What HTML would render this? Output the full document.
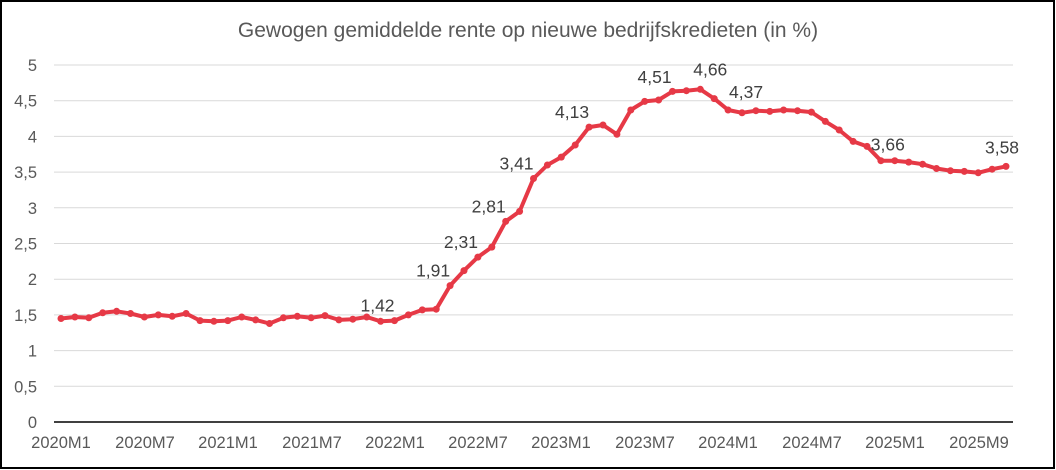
<!DOCTYPE html>
<html><head><meta charset="utf-8"><style>
html,body{margin:0;padding:0;background:#fff}
svg{display:block;font-family:"Liberation Sans",sans-serif}
</style></head><body>
<svg id="c" width="1056" height="470" xmlns="http://www.w3.org/2000/svg">
<rect x="1" y="1" width="1053" height="467" fill="#fff" stroke="#000" stroke-width="2"/>
<text x="528" y="37" text-anchor="middle" font-size="21" fill="#595959">Gewogen gemiddelde rente op nieuwe bedrijfskredieten (in %)</text>
<g id="g"></g>
</svg>
<script>
var g=document.getElementById('g'),h='';
function Y(v){return 422-71.4*v;}
for(var i=0;i<=10;i++){var v=i/2,y=Y(v);
 if(i>0)h+='<line x1="54" x2="1013" y1="'+y+'" y2="'+y+'" stroke="#d9d9d9" stroke-width="1"/>';
 h+='<text x="37" y="'+(y+6)+'" text-anchor="end" font-size="16.5" fill="#595959">'+String(v).replace('.',',')+'</text>';}
h+='<line x1="54" x2="1013" y1="422" y2="422" stroke="#000" stroke-width="1.5"/>';
var xl=[['2020M1',61],['2020M7',145],['2021M1',228],['2021M7',312],['2022M1',395],['2022M7',478],['2023M1',561],['2023M7',645],['2024M1',728],['2024M7',812],['2025M1',895],['2025M9',979]];
xl.forEach(function(a){h+='<text x="'+a[1]+'" y="448" text-anchor="middle" font-size="16.5" fill="#595959">'+a[0]+'</text>';});
var d=[1.45,1.47,1.46,1.53,1.55,1.52,1.47,1.50,1.48,1.52,1.42,1.41,
1.42,1.47,1.43,1.38,1.46,1.48,1.46,1.49,1.43,1.44,1.47,1.41,
1.42,1.50,1.57,1.58,1.91,2.12,2.31,2.45,2.81,2.95,3.41,3.60,
3.71,3.88,4.13,4.16,4.03,4.37,4.49,4.51,4.63,4.64,4.66,4.53,
4.37,4.33,4.36,4.35,4.37,4.36,4.34,4.21,4.09,3.93,3.86,3.66,
3.66,3.64,3.61,3.55,3.52,3.51,3.49,3.54,3.58];
function X(i){return 61+i*(945/68);}
var p=d.map(function(v,i){return X(i).toFixed(1)+','+Y(v).toFixed(1)}).join(' ');
h+='<polyline points="'+p+'" fill="none" stroke="#e63946" stroke-width="4" stroke-linejoin="round"/>';
d.forEach(function(v,i){h+='<circle cx="'+X(i).toFixed(1)+'" cy="'+Y(v).toFixed(1)+'" r="3.5" fill="#e63946"/>';});
var lb=[[24,'1,42'],[28,'1,91'],[30,'2,31'],[32,'2,81'],[34,'3,41'],[38,'4,13'],[43,'4,51'],[46,'4,66'],[48,'4,37'],[60,'3,66'],[68,'3,58']];
lb.forEach(function(a){var i=a[0],x=X(i),y=Y(d[i]);var dx=-17,dy=-9;
 if(i==43){dx=-4;dy=-17}if(i==46){dx=10;dy=-14}if(i==48){dx=18;dy=-12}if(i==60){dx=-7;dy=-10}if(i==68){dx=-4;dy=-13}
 h+='<text x="'+(x+dx)+'" y="'+(y+dy)+'" text-anchor="middle" font-size="17.5" fill="#404040">'+a[1]+'</text>';});
g.innerHTML=h;
</script>
</body></html>
